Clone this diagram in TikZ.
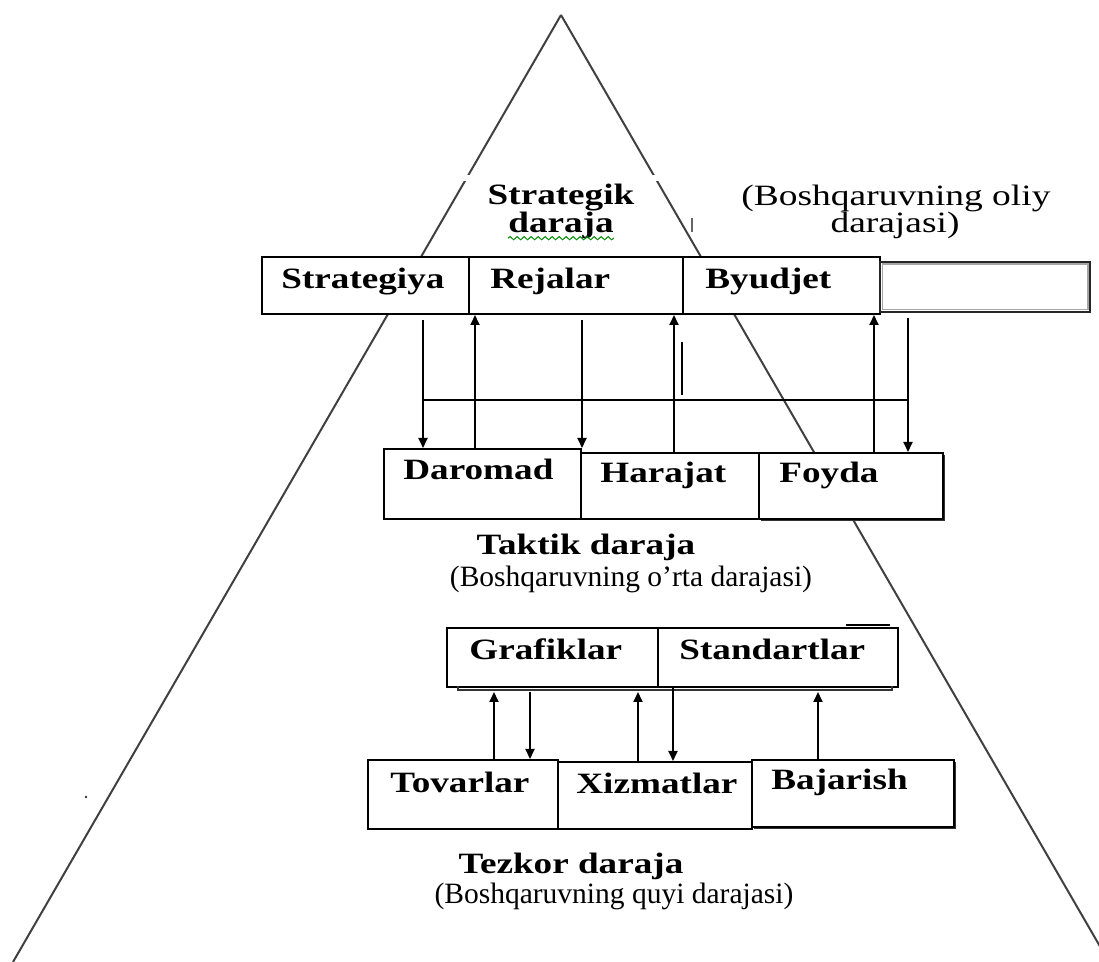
\documentclass[tikz,border=0pt]{standalone}
\usepackage{fontspec}
\setmainfont{Liberation Serif}
\newfontfamily\bwide[FakeStretch=1.26]{Liberation Serif}
\newfontfamily\rwide[FakeStretch=1.27]{Liberation Serif}
\usetikzlibrary{arrows.meta,shadows,decorations.pathmorphing}
\begin{document}
\begin{tikzpicture}[x=0.5pt,y=-0.5pt,
  box/.style={draw=black, fill=white, line width=1pt, inner sep=0pt, anchor=north west},
  shadowbox/.style={drop shadow={shadow xshift=1.2pt,shadow yshift=-1.2pt,opacity=1,fill=black!80}},
  btxt/.style={font=\bwide\bfseries\fontsize{14.75}{16}\selectfont, inner sep=0pt, anchor=base west},
  blabel/.style={font=\bwide\bfseries\fontsize{14.75}{16}\selectfont, inner sep=0pt, anchor=base},
  rlabel/.style={font=\fontsize{14.75}{16}\selectfont, inner sep=0pt, anchor=base},
  rwlabel/.style={font=\rwide\fontsize{14.75}{16}\selectfont, inner sep=0pt, anchor=base},
  tri/.style={line width=1pt, draw=black!75},
  arr/.style={line width=0.9pt, -{Triangle[length=5pt,width=4.5pt]}},
  conn/.style={line width=0.9pt}
]
\useasboundingbox (0,0) rectangle (1099,962);

% pyramid
\coordinate (apex) at (561,15);
\coordinate (bl) at (13,962);
\coordinate (br) at (1109,962);
\draw[tri] (apex) -- (bl);
\draw[tri] (apex) -- (br);
\fill[white] (452,175) rectangle (668,181);
\draw[line width=0.8pt, black!60] (692,218) -- (692,232);
\fill[black!80] (86,797) circle (1.3);

% top labels
\node[blabel] (strategik) at (561,205) {Strategik};
\node[blabel] (daraja1) at (561,233) {daraja};
\draw[green!55!black, line width=0.5pt, decorate, decoration={snake, amplitude=0.8pt, segment length=3.5pt}] ([yshift=-2.6pt]daraja1.base west) -- ([yshift=-2.6pt]daraja1.base east);
\node[rwlabel] (oliy1) at (896,206) {(Boshqaruvning oliy};
\node[rwlabel] (oliy2) at (895,233) {darajasi)};

% top row
\node[box, minimum width=103.5pt, minimum height=28.5pt] (strat) at (261,256) {};
\node[box, minimum width=107pt, minimum height=28.5pt] (rej) at (468,256) {};
\node[box, minimum width=98.5pt, minimum height=28.5pt] (byud) at (682,256) {};
\node[box, draw=black!85, minimum width=105pt, minimum height=25pt] (empty) at (879,261) {};
\draw[black!35, line width=0.7pt] ([shift={(1.6pt,-1.6pt)}]empty.north west) rectangle ([shift={(-1.6pt,1.6pt)}]empty.south east);
\node[btxt] (tstrat) at (281,289) {Strategiya};
\node[btxt] (trej) at (490,289) {Rejalar};
\node[btxt] (tbyud) at (705,289) {Byudjet};

% middle row
\node[box, minimum width=98.5pt, minimum height=35pt] (daro) at (383,448) {};
\node[box, minimum width=89pt, minimum height=33pt] (hara) at (580,452) {};
\node[box, shadowbox, minimum width=92pt, minimum height=33pt] (foyda) at (758,452) {};
\node[btxt] (tdaro) at (403,480) {Daromad};
\node[btxt] (thara) at (600,483) {Harajat};
\node[btxt] (tfoyda) at (779,483) {Foyda};

% connectors top <-> middle
\coordinate (c1) at (423,0);
\coordinate (c2) at (475,0);
\coordinate (c3) at (582,0);
\coordinate (c4) at (674,0);
\coordinate (c5) at (874,0);
\coordinate (c6) at (908,0);
\coordinate (hl) at (0,400);
\draw[arr, shorten <=2.5pt] (c1 |- strat.south) -- (c1 |- daro.north);
\draw[arr] (c2 |- daro.north) -- (c2 |- strat.south);
\draw[arr, shorten <=2.5pt] (c3 |- rej.south) -- (c3 |- daro.north);
\draw[arr] (c4 |- hara.north) -- (c4 |- rej.south);
\draw[arr] (c5 |- foyda.north) -- (c5 |- byud.south);
\draw[arr, shorten <=2.5pt] (c6 |- empty.south) -- (c6 |- foyda.north);
\draw[conn] (c1 |- hl) -- (c6 |- hl);
\coordinate (vt) at (682,342);
\coordinate (vb) at (682,395);
\draw[line width=1.2pt] (vt) -- (vb);

\node[blabel] (taktik) at (586,555) {Taktik daraja};
\node[rlabel] (orta) at (631,587) {(Boshqaruvning o’rta darajasi)};

% lower group
\node[box, minimum width=105.5pt, minimum height=29.5pt] (graf) at (446,627) {};
\node[box, minimum width=120pt, minimum height=29.5pt] (stand) at (657,627) {};
\draw[line width=0.8pt, black!80] (458,686) -- (458,690) -- (892,690) -- (892,686);
\draw[line width=1pt] (846,625) -- (890,625);
\node[btxt] (tgraf) at (469,660) {Grafiklar};
\node[btxt] (tstand) at (679,660) {Standartlar};

\node[box, minimum width=95pt, minimum height=34.5pt] (tov) at (367,759) {};
\node[box, minimum width=97pt, minimum height=33.5pt] (xiz) at (557,761) {};
\node[box, shadowbox, minimum width=101pt, minimum height=33.5pt] (baj) at (751,759) {};
\node[btxt] (ttov) at (390,792) {Tovarlar};
\node[btxt] (txiz) at (576,793) {Xizmatlar};
\node[btxt] (tbaj) at (771,790) {Bajarish};

\coordinate (l1) at (494,0);
\coordinate (l2) at (530,0);
\coordinate (l3) at (638,0);
\coordinate (l4) at (673,0);
\coordinate (l5) at (818,0);
\draw[arr, shorten >=2pt] (l1 |- tov.north) -- (l1 |- graf.south);
\draw[arr, shorten <=2pt] (l2 |- graf.south) -- (l2 |- tov.north);
\draw[arr, shorten >=2pt] (l3 |- xiz.north) -- (l3 |- stand.south);
\draw[arr] (l4 |- stand.south) -- (l4 |- xiz.north);
\draw[arr, shorten >=2pt] (l5 |- baj.north) -- (l5 |- stand.south);

\node[blabel] (tezkor) at (571,873) {Tezkor daraja};
\node[rlabel] (quyi) at (614,903) {(Boshqaruvning quyi darajasi)};
\end{tikzpicture}
\end{document}
